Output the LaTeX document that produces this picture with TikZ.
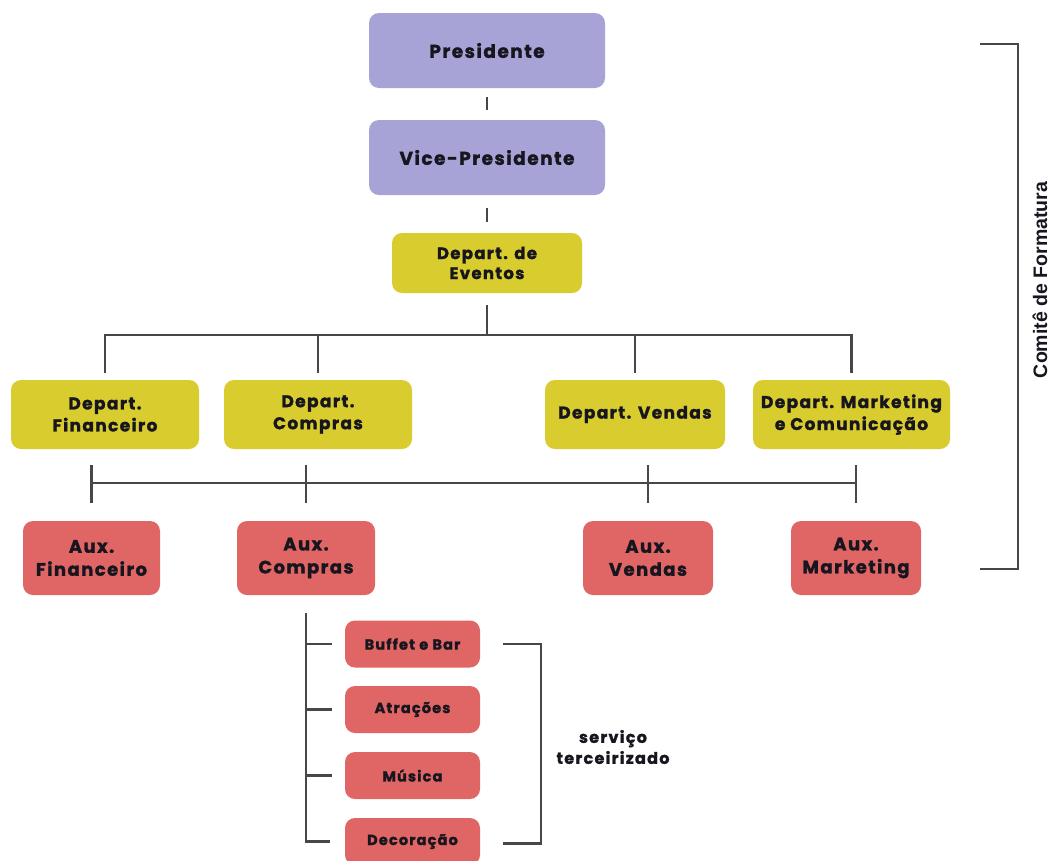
\documentclass[tikz,border=0pt]{standalone}
\usepackage{fontspec}
\usetikzlibrary{calc}
\newfontfamily\boxfont{Poppins}[LetterSpace=8, BoldFeatures={FakeBold=1.5}]
\newfontfamily\sidefont{Liberation Sans}
\definecolor{lavender}{HTML}{A8A3D7}
\definecolor{mustard}{HTML}{D9CC2F}
\definecolor{coral}{HTML}{E06565}
\definecolor{inkdark}{HTML}{17161F}
\definecolor{linegray}{HTML}{474747}
\tikzset{
  x=1pt, y=-1pt,
  box/.style={rounded corners=10pt, inner sep=0pt, align=center, text=inkdark},
  topbox/.style={box, fill=lavender, minimum width=236, minimum height=75,
    font=\boxfont\bfseries\fontsize{18.5}{22}\selectfont},
  eventbox/.style={box, fill=mustard, minimum width=190, minimum height=60,
    font=\boxfont\bfseries\fontsize{16.5}{20}\selectfont},
  deptbox/.style={box, fill=mustard, minimum height=69,
    font=\boxfont\bfseries\fontsize{17}{22}\selectfont},
  auxbox/.style={box, fill=coral, minimum height=74,
    font=\boxfont\bfseries\fontsize{18}{23}\selectfont},
  svcbox/.style={box, fill=coral, minimum width=135, minimum height=47,
    font=\boxfont\bfseries\fontsize{14.5}{17}\selectfont},
  link/.style={draw=linegray, line width=2.4pt},
}
\begin{document}
\begin{tikzpicture}
\useasboundingbox (0,0) rectangle (1051,860);
\fill[white] (0,0) rectangle (1051,860);
\clip (0,0) rectangle (1051,860);

% top of the chart
\node[topbox] (pres) at (487,50.5) {Presidente};
\node[topbox] (vice) at (487,157.5) {Vice-Presidente};
\node[eventbox] (ev) at (487,263) {Depart. de\\Eventos};

% departments
\node[deptbox, minimum width=188] (dfin) at (105,414.5) {Depart.\\Financeiro};
\node[deptbox, minimum width=188] (dcomp) at (318,414.5) {Depart.\\Compras};
\node[deptbox, minimum width=180] (dvend) at (635,414.5) {Depart. Vendas};
\node[deptbox, minimum width=197] (dmkt) at (851.5,414.5) {Depart. Marketing\\e Comunicação};

% assistants
\node[auxbox, minimum width=137] (afin) at (91.5,558) {Aux.\\Financeiro};
\node[auxbox, minimum width=138] (acomp) at (306,558) {Aux.\\Compras};
\node[auxbox, minimum width=130] (avend) at (648,558) {Aux.\\Vendas};
\node[auxbox, minimum width=130] (amkt) at (856,558) {Aux.\\Marketing};

% outsourced services
\node[svcbox] (buffet) at (412.5,644) {Buffet e Bar};
\node[svcbox] (atr) at (412.5,709.5) {Atrações};
\node[svcbox] (mus) at (412.5,775.5) {Música};
\node[svcbox] (deco) at (412.5,841.5) {Decoração};

\node[align=center, text=inkdark, font=\boxfont\bfseries\fontsize{16}{21}\selectfont]
  (svc) at (613,747) {serviço\\terceirizado};

% committee label
\node[rotate=90, text=inkdark, font=\sidefont\bfseries\fontsize{19.5}{22}\selectfont]
  (comite) at (1040,280) {Comitê de Formatura};

% short links between the upper boxes
\draw[link] ($(pres.south)+(0,9)$) -- ($(vice.north)-(0,10)$);
\draw[link] ($(vice.south)+(0,13)$) -- ($(ev.north)-(0,11)$);

% first bus: events to departments
\coordinate (busA) at (0,335);
\draw[link] ($(ev.south)+(0,12)$) -- (ev.south |- busA);
\draw[link, line join=miter] ($(dfin.north)-(0,7)$) -- (dfin.north |- busA)
  -- (dmkt.north |- busA) -- ($(dmkt.north)-(0,7)$);
\draw[link] (dcomp.north |- busA) -- ($(dcomp.north)-(0,7)$);
\draw[link] (dvend.north |- busA) -- ($(dvend.north)-(0,7)$);

% second bus: departments to assistants
\coordinate (busB) at (0,483);
\draw[link] (afin.north |- busB) -- (amkt.north |- busB);
\foreach \n in {afin,acomp,avend,amkt}
  \draw[link] ($(\n.north)-(0,18)$) -- ($(\n.north)-(0,56)$);

% services hanging from the purchasing assistant
\draw[link, line join=miter] ($(acomp.south)+(0,18)$) |- ($(deco.west)-(15,0)$);
\foreach \n in {buffet,atr,mus}
  \draw[link] (\n.west -| acomp.south) -- ($(\n.west)-(13,0)$);

% bracket around the outsourced services
\draw[link, line join=miter] ($(buffet.east)+(23,0)$) -| ($(deco.east)+(61,2)$)
  -- ($(deco.east)+(23,2)$);

% bracket of the committee
\coordinate (ctop) at (980,44);
\coordinate (cbot) at (980,569);
\draw[link, line join=miter] (ctop) -- ++(38,0) |- (cbot);
\end{tikzpicture}
\end{document}
